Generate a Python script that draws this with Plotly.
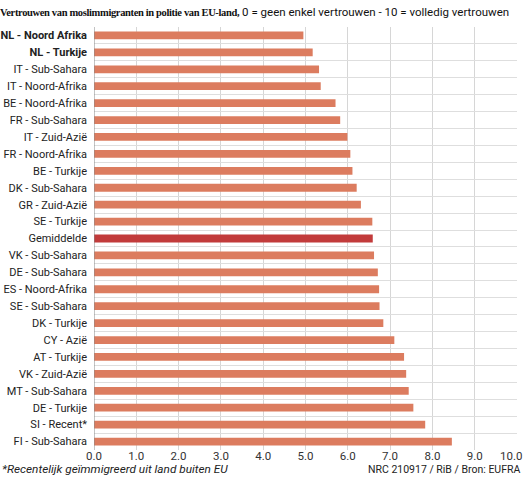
import plotly.graph_objects as go

categories = [
    "NL - Noord Afrika", "NL - Turkije", "IT - Sub-Sahara", "IT - Noord-Afrika",
    "BE - Noord-Afrika", "FR - Sub-Sahara", "IT - Zuid-Azië", "FR - Noord-Afrika",
    "BE - Turkije", "DK - Sub-Sahara", "GR - Zuid-Azië", "SE - Turkije",
    "Gemiddelde", "VK - Sub-Sahara", "DE - Sub-Sahara", "ES - Noord-Afrika",
    "SE - Sub-Sahara", "DK - Turkije", "CY - Azië", "AT - Turkije",
    "VK - Zuid-Azië", "MT - Sub-Sahara", "DE - Turkije", "SI - Recent*",
    "FI - Sub-Sahara",
]
values = [4.95, 5.17, 5.32, 5.36, 5.71, 5.82, 5.99, 6.06, 6.11, 6.21, 6.31, 6.58,
          6.59, 6.62, 6.71, 6.74, 6.75, 6.84, 7.10, 7.33, 7.38, 7.44, 7.55, 7.83,
          8.46]
bold_labels = ["NL - Noord Afrika", "NL - Turkije"]
highlight = "Gemiddelde"
x_ticks = [0, 1, 2, 3, 4, 5, 6, 7, 8, 9, 10]

BAR = "#dc7c5f"
HL = "#c23b3b"
colors = [HL if c == highlight else BAR for c in categories]
ticktext = [f"<b>{c}</b>" if c in bold_labels else c for c in categories]
# last x label padded so it stays inside the page edge, as in the original
x_ticktext = [f"{v:.1f}" for v in x_ticks]
x_ticktext[-1] = x_ticktext[-1] + "\u00a0" * 4

fig = go.Figure(go.Bar(
    x=values, y=categories, orientation="h",
    marker=dict(color=colors, line=dict(width=0)),
    width=0.46,
))

FONT = "Roboto"
PW, PH = 423, 423
fig.update_layout(
    width=524, height=480,
    margin=dict(l=94, r=7, t=27, b=30, autoexpand=False),
    paper_bgcolor="white", plot_bgcolor="white",
    showlegend=False,
    font=dict(family=FONT, size=12, color="#222"),
    xaxis=dict(
        range=[0, 10], tickvals=x_ticks, ticktext=x_ticktext,
        showgrid=True, gridcolor="#d6d6d6", gridwidth=1,
        zeroline=False, showline=False, ticks="", automargin=False,
        ticklabeloverflow="allow", ticklabelstandoff=-3,
        tickfont=dict(size=11.5, color="#333"), fixedrange=True,
    ),
    yaxis=dict(
        type="category", autorange="reversed",
        tickmode="array", tickvals=categories, ticktext=ticktext,
        tickson="boundaries", showgrid=True, gridcolor="#dedede", gridwidth=1,
        ticks="", showline=False, zeroline=False, automargin=False,
        tickfont=dict(size=11, color="#222"), ticklabelstandoff=6,
    ),
    title=dict(
        text="<span style='font-family:Liberation Sans Narrow;font-size:10.5px;letter-spacing:-0.35px'><b>Vertrouwen van moslimmigranten in politie van EU-land,</b></span> 0 = geen enkel vertrouwen - 10 = volledig vertrouwen",
        xref="container", yref="container", x=0.0, y=1 - 12 / 480,
        xanchor="left", yanchor="middle", automargin=False,
        font=dict(family=FONT, size=11.5, color="#111"),
    ),
    shapes=[dict(type="line", xref="x", yref="paper", x0=0, x1=0, y0=0, y1=1,
                 line=dict(color="#888", width=1))],
    annotations=[
        dict(text="<i>*Recentelijk geïmmigreerd uit land buiten EU</i>",
             xref="paper", yref="paper", x=-94 / PW, y=-19 / PH,
             xanchor="left", yanchor="middle", showarrow=False,
             font=dict(family=FONT, size=11.8, color="#222")),
        dict(text="NRC 210917 / RiB / Bron: EUFRA",
             xref="paper", yref="paper", x=1 + 5 / PW, y=-19 / PH,
             xanchor="right", yanchor="middle", showarrow=False,
             font=dict(family=FONT, size=10.5, color="#222")),
    ],
)

fig.write_html("out.html", config={"displayModeBar": False},
               post_script="document.body.style.margin='0';")
